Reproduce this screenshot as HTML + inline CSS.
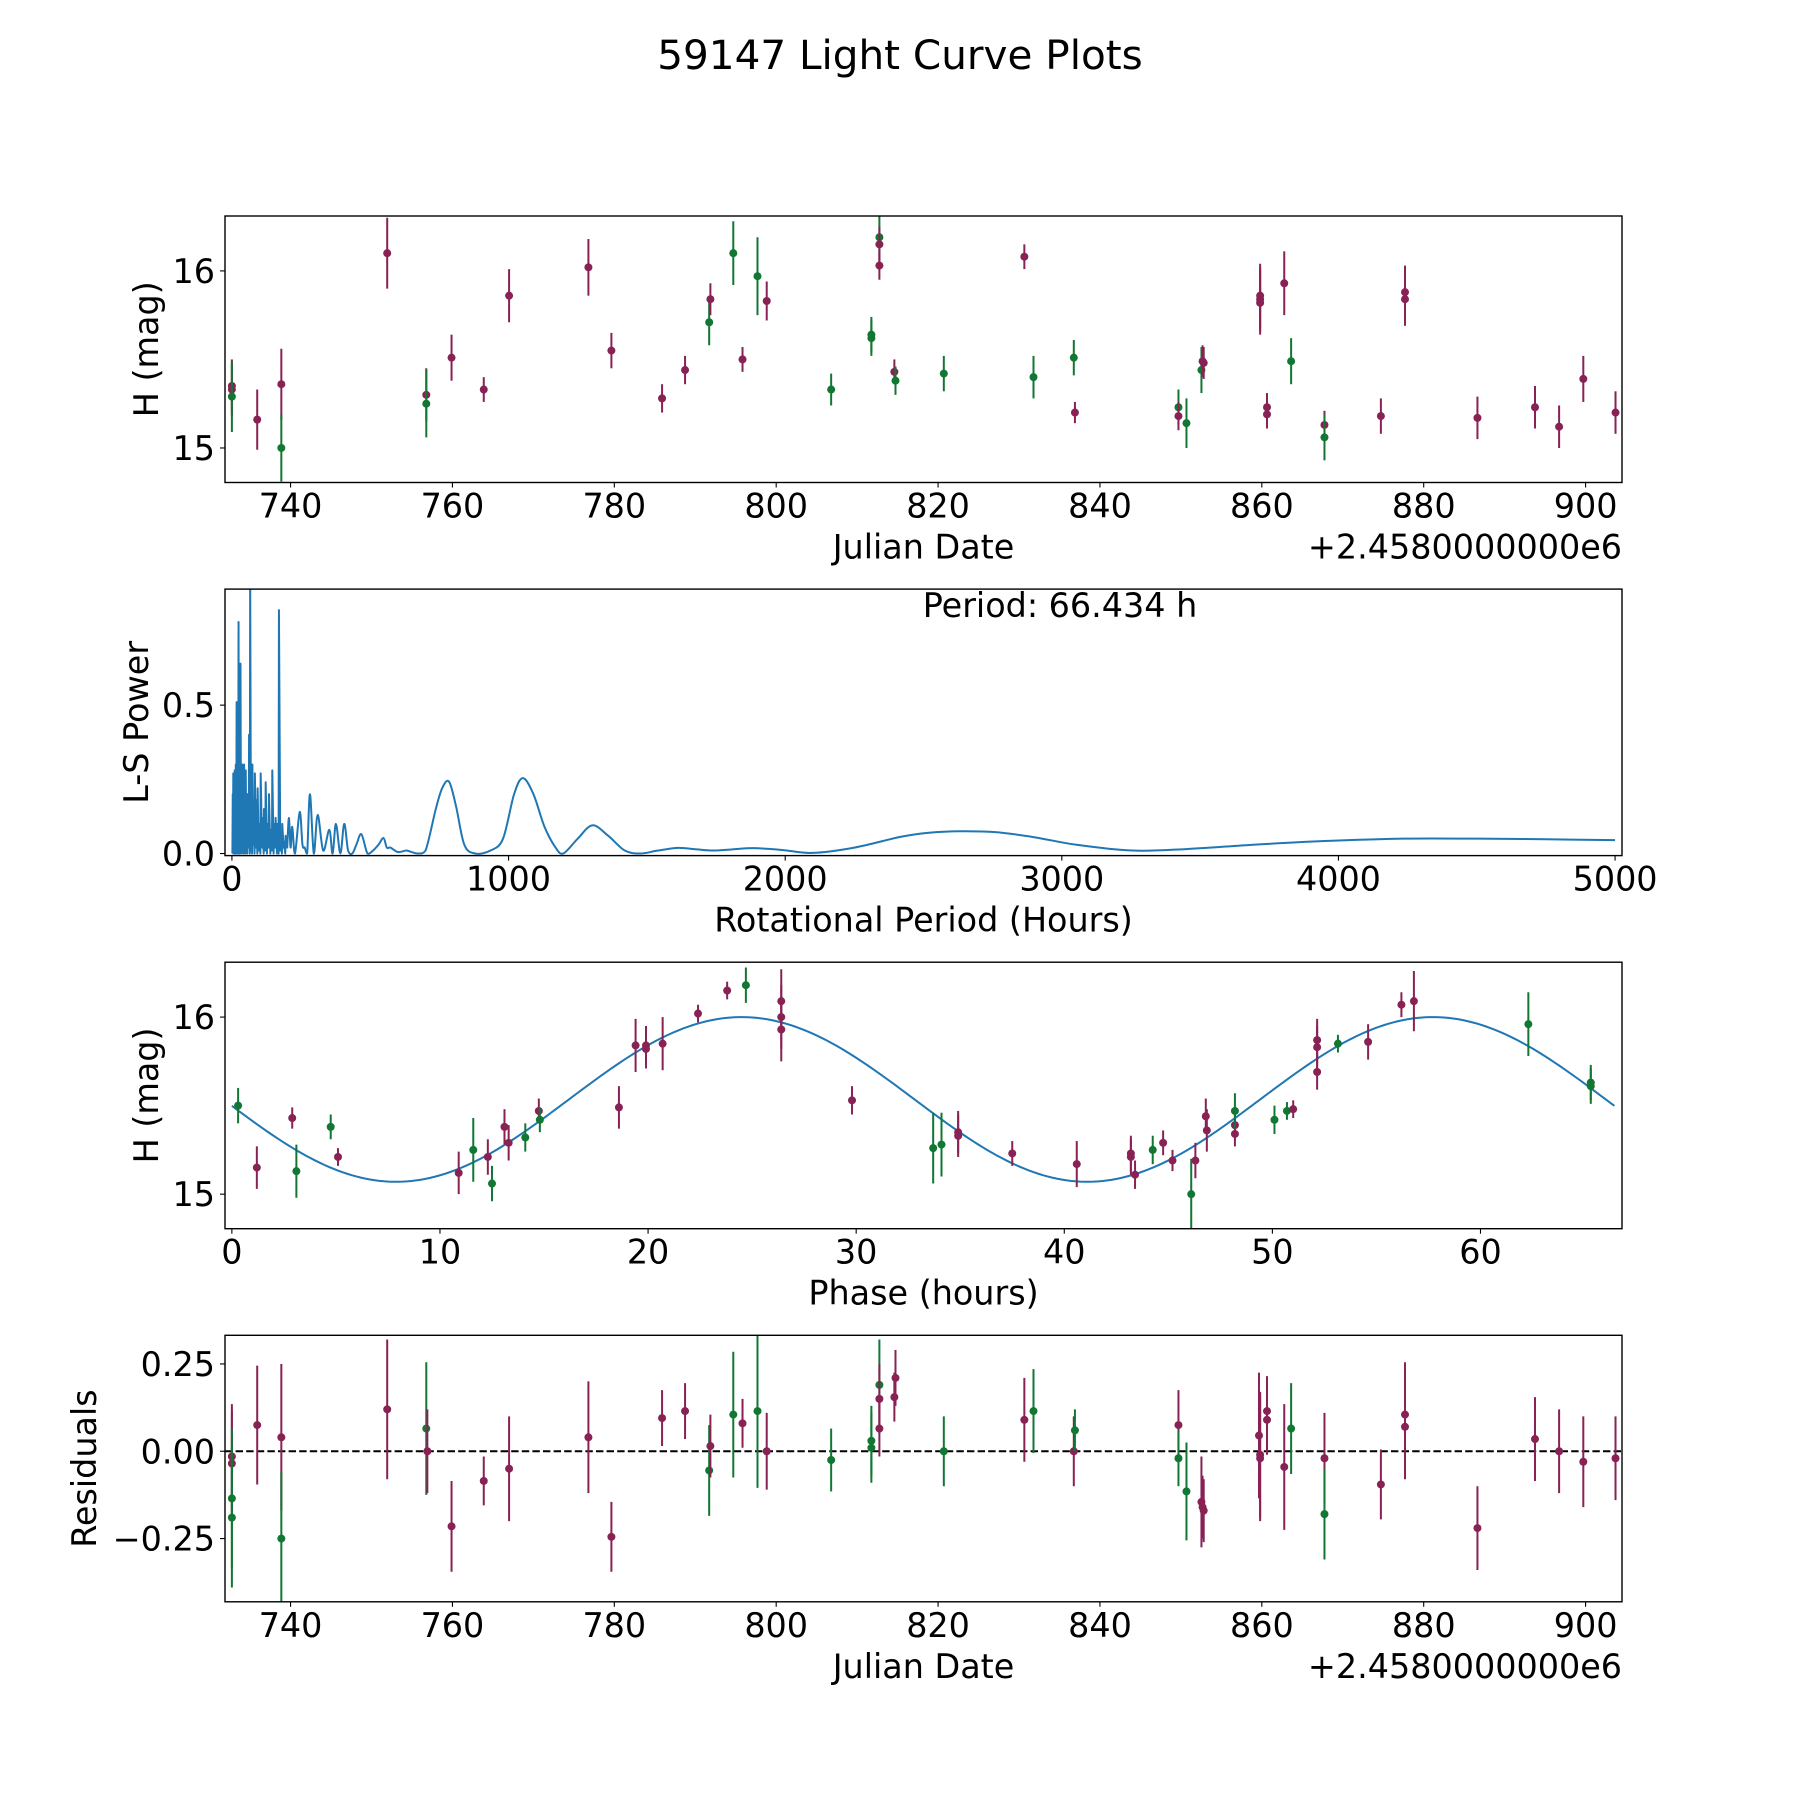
<!DOCTYPE html>
<html><head><meta charset="utf-8"><style>
html,body{margin:0;padding:0;background:#fff}
svg text{font-family:"DejaVu Sans","Liberation Sans",sans-serif;fill:#000}
</style></head><body>
<svg id="fig" xmlns="http://www.w3.org/2000/svg" width="1800" height="1800" viewBox="0 0 1800 1800">
<rect width="1800" height="1800" fill="#fff"/>
<text x="900" y="69" font-size="40.5" text-anchor="middle">59147 Light Curve Plots</text>
</svg>
<script>
// ---------- data: light curve (JD - 2458000) ----------
const lcJd  = [732.75,732.75,732.75,735.88,738.86,738.86,751.94,756.77,756.77,759.89,763.87,767.0,776.8,779.64,785.9,788.74,791.72,791.87,794.7,795.84,797.69,798.83,806.79,811.76,811.76,812.75,812.75,812.75,814.6,814.74,820.71,830.66,831.79,836.77,836.91,849.7,849.7,850.69,852.54,852.68,852.82,859.79,859.79,859.79,860.64,860.64,862.77,863.62,867.74,867.74,874.71,877.69,877.69,886.64,893.75,896.73,899.72,903.7];
const lcMag = [15.35,15.33,15.29,15.16,15.36,15.0,16.10,15.30,15.25,15.51,15.33,15.86,16.02,15.55,15.28,15.44,15.71,15.84,16.10,15.50,15.97,15.83,15.33,15.64,15.62,16.19,16.15,16.03,15.43,15.38,15.42,16.08,15.40,15.51,15.20,15.23,15.18,15.14,15.44,15.49,15.48,15.86,15.82,15.84,15.23,15.19,15.93,15.49,15.13,15.06,15.18,15.88,15.84,15.17,15.23,15.12,15.39,15.20];
const lcErr = [.15,.15,.2,.17,.2,.19,.2,.15,.19,.13,.07,.15,.16,.1,.08,.08,.13,.09,.18,.07,.22,.11,.09,.1,.1,.13,.1,.08,.07,.08,.1,.07,.12,.1,.06,.1,.08,.14,.13,.09,.09,.18,.18,.18,.08,.08,.18,.13,.08,.13,.1,.15,.15,.12,.12,.12,.13,.12];
const lcBand= "mmgmmgmmgmmmmmmmgmgmgmggggmmmggmggmgmggmmmmmmmmgmgmmmmmmmm".split("");

// ---------- data: periodogram ----------
const spikeP = [3,5,6.5,8,10,12,14,15.5,17,19,21,22.5,24,26,29,31,34,37,40,44,47,50,53,57,62,66,70,74,78,83,88,93,98,104,110,116,122,128,134,140,146,152,158,164,170,176,182,188,194];
const spikeV = [0.2,0.27,0.05,0.1,0.28,0.05,0.3,0.12,0.51,0.1,0.45,0.15,0.78,0.2,0.4,0.64,0.15,0.3,0.22,0.3,0.1,0.28,0.15,0.2,0.4,0.95,0.3,0.3,0.12,0.27,0.18,0.22,0.1,0.27,0.12,0.15,0.24,0.1,0.2,0.08,0.28,0.1,0.12,0.1,0.82,0.05,0.1,0.04,0.06];
const troughV = [0.0,0.01,0.0,0.02,0.0,0.01,0.0,0.03,0.0,0.02,0.0,0.01,0.04,0.0,0.02,0.0,0.03,0.0,0.01,0.0,0.02,0.0,0.01,0.0,0.02,0.0,0.01,0.0,0.03,0.0,0.02,0.0,0.01,0.0,0.02,0.0,0.01,0.0,0.02,0.0,0.01,0.0,0.02,0.0,0.0,0.01,0.0,0.02,0.0];
const smoothP = [200,206,212,218,228,245,255,263,272,282,296,310,330,352,364,376,392,406,420,435,450,468,490,510,530,548,560,573,600,630,650,673,700,737,760,785,810,840,879,935,980,1020,1052,1090,1130,1170,1198,1250,1303,1360,1420,1476,1540,1613,1680,1742,1810,1887,1990,2097,2250,2416,2520,2631,2760,2900,3050,3254,3450,3700,3950,4231,4500,4750,5000];
const smoothV = [0.02,0.12,0.02,0.09,0.0,0.14,0.03,0.02,0.0,0.2,0.0,0.13,0.01,0.08,0.0,0.1,0.0,0.1,0.01,0.0,0.03,0.065,0.0,0.01,0.03,0.052,0.02,0.02,0.005,0.01,0.005,0.0,0.01,0.15,0.22,0.242,0.16,0.03,0.0,0.01,0.05,0.2,0.254,0.2,0.09,0.02,0.0,0.05,0.095,0.06,0.01,0.0,0.01,0.019,0.014,0.01,0.014,0.018,0.012,0.002,0.02,0.056,0.07,0.075,0.072,0.055,0.03,0.01,0.015,0.03,0.042,0.05,0.05,0.048,0.045];
const periodLabel = "Period: 66.434 h";

// ---------- data: phased curve ----------
const phX   = [0.3,1.2,2.9,3.1,4.75,5.1,10.9,11.6,12.3,12.5,13.1,13.3,14.1,14.75,14.8,18.6,19.4,19.9,19.9,20.7,22.4,23.8,24.7,26.4,26.4,26.4,29.8,33.7,34.1,34.9,34.9,37.5,40.6,43.2,43.2,43.4,44.25,44.75,45.2,46.1,46.3,46.8,46.85,48.2,48.2,48.2,50.1,50.7,51.0,52.15,52.15,52.15,53.15,54.6,56.2,56.8,62.3,65.3,65.3];
const phMag = [15.5,15.15,15.43,15.13,15.38,15.21,15.12,15.25,15.21,15.06,15.38,15.29,15.32,15.47,15.42,15.49,15.84,15.82,15.84,15.85,16.02,16.15,16.18,16.09,16.0,15.93,15.53,15.26,15.28,15.35,15.33,15.23,15.17,15.23,15.21,15.11,15.25,15.29,15.19,15.0,15.19,15.44,15.36,15.34,15.39,15.47,15.42,15.47,15.48,15.87,15.83,15.69,15.85,15.86,16.07,16.09,15.96,15.63,15.61];
const phErr = [.1,.12,.06,.15,.07,.05,.12,.18,.1,.1,.1,.1,.08,.07,.07,.12,.15,.11,.11,.15,.05,.05,.1,.18,.18,.18,.08,.2,.18,.12,.12,.07,.13,.1,.1,.08,.08,.07,.06,.2,.1,.1,.12,.07,.07,.1,.08,.05,.05,.12,.12,.1,.05,.1,.07,.17,.18,.1,.1];
const phBand= "gmmggmmgmgmmgmgmmmmmmmgmmmmggmmmmmmmgmmgmmmmmgggmmmmgmmmgggg".split("");
const fitMean = [15.535], fitAmp = [0.465], fitPeriod = [33.217], fitPeak = [24.5], phaseMax = [66.434];

// ---------- data: residuals ----------
const rsJd  = [732.75,732.75,732.75,732.75,735.88,738.86,738.86,751.94,756.77,756.9,759.89,763.87,767.0,776.8,779.64,785.9,788.74,791.72,791.87,794.7,795.84,797.69,798.83,806.79,811.76,811.76,812.75,812.75,812.75,814.6,814.74,820.71,830.66,831.79,836.77,836.91,849.7,849.7,850.69,852.54,852.68,852.82,859.65,859.79,859.79,860.64,860.64,862.77,863.62,867.74,867.74,874.71,877.69,877.69,886.64,893.75,896.73,899.72,903.7];
const rsVal = [-0.015,-0.035,-0.135,-0.19,0.075,0.04,-0.25,0.12,0.065,0.0,-0.215,-0.085,-0.05,0.04,-0.245,0.095,0.115,-0.055,0.015,0.105,0.08,0.115,0.0,-0.025,0.03,0.01,0.19,0.15,0.065,0.155,0.21,0.0,0.09,0.115,0.0,0.06,0.075,-0.02,-0.115,-0.145,-0.16,-0.17,0.045,-0.01,-0.02,0.115,0.09,-0.045,0.065,-0.02,-0.18,-0.095,0.105,0.07,-0.22,0.035,0.0,-0.03,-0.02];
const rsErr = [.15,.15,.2,.2,.17,.21,.19,.2,.19,.12,.13,.07,.15,.16,.1,.08,.08,.13,.09,.18,.07,.22,.11,.09,.1,.1,.13,.1,.08,.07,.08,.1,.12,.12,.1,.06,.1,.08,.14,.13,.09,.09,.18,.18,.18,.1,.1,.18,.13,.13,.13,.1,.15,.15,.12,.12,.12,.13,.12];
const rsBand= "mmggmmgmgmmmmmmmmgmgmgmggggmmmmgmgmgmggmmmmmmmmmgmgmmmmmmmmm".split("");

const xTicksJd = [740,760,780,800,820,840,860,880,900];
const xTicksPer = [0,1000,2000,3000,4000,5000];
const xTicksPh = [0,10,20,30,40,50,60];
const yTicksMag = [15,16];
const yTicksPow = [0.0,0.5];
const yTicksRes = [-0.25,0.0,0.25];
const yTickResLabels = ["\u22120.25","0.00","0.25"];
</script>
<script>
const svg = document.getElementById('fig');
const NS = 'http://www.w3.org/2000/svg';
const COL = {m:'#882255', g:'#117733'};
const FS = 33.4;
const L = 225, R = 1622, H = 266.5;
const TOPS = [216, 589.1, 962.2, 1335.3];
function mk(tag, attrs, parent){
  const e = document.createElementNS(NS, tag);
  for (const k in attrs) e.setAttribute(k, attrs[k]);
  (parent||svg).appendChild(e);
  return e;
}
function scale(d0,d1,p0,p1){ return v => p0 + (v-d0)/(d1-d0)*(p1-p0); }

function axes(idx, xr, yr, name){
  const top = TOPS[idx], bot = top + H;
  const g = mk('g', {});
  
  
  return {g, top, bot, sx: scale(xr[0],xr[1],L,R), sy: scale(yr[0],yr[1],bot,top)};
}
function frame(a){
  const r = mk('rect', {x:L, y:a.top, width:R-L, height:H, fill:'none', stroke:'#000', 'stroke-width':1.4}, a.g);
  
  
}
function xticks(a, vals, labels){
  vals.forEach((v,i)=>{
    const x = a.sx(v);
    mk('line', {x1:x, x2:x, y1:a.bot, y2:a.bot+5, stroke:'#000', 'stroke-width':1.1}, a.g);
    const t = mk('text', {x:x, y:a.bot+35, 'font-size':FS, 'text-anchor':'middle'}, a.g);
    
    
    t.textContent = labels ? labels[i] : String(v);
  });
}
function yticks(a, vals, labels){
  vals.forEach((v,i)=>{
    const y = a.sy(v);
    mk('line', {x1:L-5, x2:L, y1:y, y2:y, stroke:'#000', 'stroke-width':1.1}, a.g);
    const t = mk('text', {x:L-10, y:y+12, 'font-size':FS, 'text-anchor':'end'}, a.g);
    
    
    t.textContent = labels ? labels[i] : String(v);
  });
}
function xlabel(a, txt, offset){
  const t = mk('text', {x:(L+R)/2, y:a.bot+76, 'font-size':FS, 'text-anchor':'middle'}, a.g);
  
  
  t.textContent = txt;
  if (offset){
    const o = mk('text', {x:R, y:a.bot+76, 'font-size':FS, 'text-anchor':'end'}, a.g);
    
    
    o.textContent = '+2.4580000000e6';
  }
}
function ylabel(a, txt, x){
  const cy = (a.top+a.bot)/2;
  const t = mk('text', {x:x, y:cy, 'font-size':FS, 'text-anchor':'middle', transform:`rotate(-90 ${x} ${cy})`}, a.g);
  
  
  t.textContent = txt;
}
function errPoints(a, xs, ys, es, bands, clipId){
  const cg = mk('g', {'clip-path':`url(#${clipId})`}, a.g);
  xs.forEach((xv,i)=>{
    const x = a.sx(xv), c = COL[bands[i]];
    const l = mk('line', {x1:x, x2:x, y1:a.sy(ys[i]-es[i]), y2:a.sy(ys[i]+es[i]), stroke:c, 'stroke-width':2}, cg);
    
    
    const p = mk('circle', {cx:x, cy:a.sy(ys[i]), r:4, fill:c}, cg);
    
    
  });
}
const defs = mk('defs', {});
function clip(a, id){
  const cp = mk('clipPath', {id:id}, defs);
  mk('rect', {x:L, y:a.top, width:R-L, height:H}, cp);
}

// ---- panel 1: light curve ----
const a1 = axes(0, [731.9, 904.5], [14.805, 16.31], 'light-curve-panel');
clip(a1, 'c1');
errPoints(a1, lcJd, lcMag, lcErr, lcBand, 'c1');
frame(a1); xticks(a1, xTicksJd); yticks(a1, yTicksMag);
xlabel(a1, 'Julian Date', true); ylabel(a1, 'H (mag)', 158);

// ---- panel 2: periodogram ----
const a2 = axes(1, [-25, 5025], [-0.007, 0.891], 'periodogram-panel');
clip(a2, 'c2');
let d = '';
spikeP.forEach((p,i)=>{
  d += (i?'L':'M') + a2.sx(p-1.2).toFixed(2)+' '+a2.sy(troughV[i]).toFixed(2);
  d += 'L' + a2.sx(p).toFixed(2)+' '+a2.sy(spikeV[i]).toFixed(2);
});
const sp = smoothP.map((p,i)=>[a2.sx(p), a2.sy(smoothV[i])]);
d += 'L' + sp[0][0].toFixed(2)+' '+sp[0][1].toFixed(2);
const pbot = a2.sy(0) + 1;
for (let i=0;i<sp.length-1;i++){
  const p0 = sp[Math.max(0,i-1)], p1 = sp[i], p2 = sp[i+1], p3 = sp[Math.min(sp.length-1,i+2)];
  const c1x = p1[0] + (p2[0]-p0[0])/6, c1y = p1[1] + (p2[1]-p0[1])/6;
  const c2x = p2[0] - (p3[0]-p1[0])/6, c2y = p2[1] - (p3[1]-p1[1])/6;
  d += `C${c1x.toFixed(2)} ${Math.min(c1y,pbot).toFixed(2)} ${c2x.toFixed(2)} ${Math.min(c2y,pbot).toFixed(2)} ${p2[0].toFixed(2)} ${p2[1].toFixed(2)}`;
}
const pl = mk('path', {d:d, fill:'none', stroke:'#1f77b4', 'stroke-width':2, 'stroke-linejoin':'round', 'clip-path':'url(#c2)'}, a2.g);


frame(a2); xticks(a2, xTicksPer); yticks(a2, yTicksPow, ['0.0','0.5']);
xlabel(a2, 'Rotational Period (Hours)', false); ylabel(a2, 'L-S Power', 148);
const pt = mk('text', {x:1060, y:617, 'font-size':FS, 'text-anchor':'middle'}, a2.g);


pt.textContent = periodLabel;

// ---- panel 3: phased ----
const a3 = axes(2, [-0.33, 66.8], [14.805, 16.31], 'phase-panel');
clip(a3, 'c3');
let fd = '';
for (let i=0;i<=300;i++){
  const p = phaseMax[0]*i/300;
  const m = fitMean[0] + fitAmp[0]*Math.cos(2*Math.PI*(p-fitPeak[0])/fitPeriod[0]);
  fd += (i?'L':'M') + a3.sx(p).toFixed(2)+' '+a3.sy(m).toFixed(2);
}
const fl = mk('path', {d:fd, fill:'none', stroke:'#1f77b4', 'stroke-width':2}, a3.g);


errPoints(a3, phX, phMag, phErr, phBand, 'c3');
frame(a3); xticks(a3, xTicksPh); yticks(a3, yTicksMag);
xlabel(a3, 'Phase (hours)', false); ylabel(a3, 'H (mag)', 158);

// ---- panel 4: residuals ----
const a4 = axes(3, [731.9, 904.5], [-0.431, 0.332], 'residuals-panel');
clip(a4, 'c4');
const zl = mk('line', {x1:L, x2:R, y1:a4.sy(0), y2:a4.sy(0), stroke:'#000', 'stroke-width':2, 'stroke-dasharray':'7.4 3.2'}, a4.g);


errPoints(a4, rsJd, rsVal, rsErr, rsBand, 'c4');
frame(a4); xticks(a4, xTicksJd); yticks(a4, yTicksRes, yTickResLabels);
xlabel(a4, 'Julian Date', true); ylabel(a4, 'Residuals', 96);
</script>
</body></html>
